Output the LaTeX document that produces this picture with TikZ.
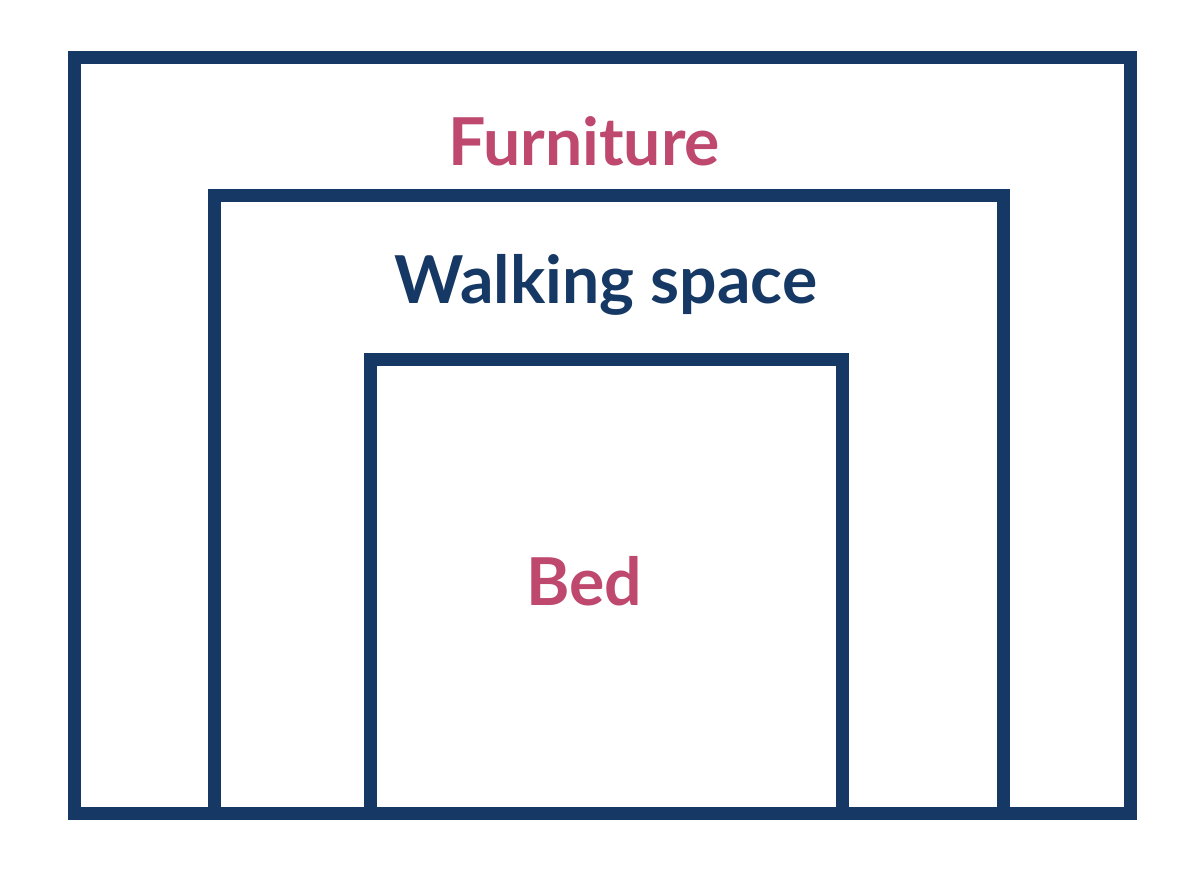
\documentclass[tikz,border=0pt]{standalone}
\usepackage{fontspec}
\setmainfont{Lato}
\definecolor{navy}{RGB}{22,56,100}
\definecolor{rose}{RGB}{190,72,110}
\tikzset{
  wall/.style={draw=navy, line width=0.65cm, line join=miter},
  zonelabel/.style={anchor=base, font=\fontsize{94}{100}\selectfont\bfseries}
}
\begin{document}
\begin{tikzpicture}[x=0.05cm, y=-0.05cm]
\useasboundingbox (0,0) rectangle (1200,896);
\fill [white] (0,0) rectangle (1200,896);

% furniture
            \draw [wall] ( 74.5, 813 ) -- ( 74.5, 57 ) -- ( 1130, 57 ) -- ( 1130, 813 ) -- cycle;
            \node [zonelabel, text=rose] (furniture) at ( 584, 165 ) {Furniture};

% walking space
            \draw [wall] ( 214.5, 813 ) -- ( 214.5, 195 ) -- ( 1003, 195 ) -- ( 1003, 813 );
            \node [zonelabel, text=navy] (walking) at ( 606, 303 ) {Walking space};

% bed
            \draw [wall] ( 370, 813 ) -- ( 370, 359.5 ) -- ( 842.5, 359.5 ) -- ( 842.5, 813 );
            \node [zonelabel, text=rose] (bed) at ( 584, 605 ) {Bed};
\end{tikzpicture}
\end{document}
